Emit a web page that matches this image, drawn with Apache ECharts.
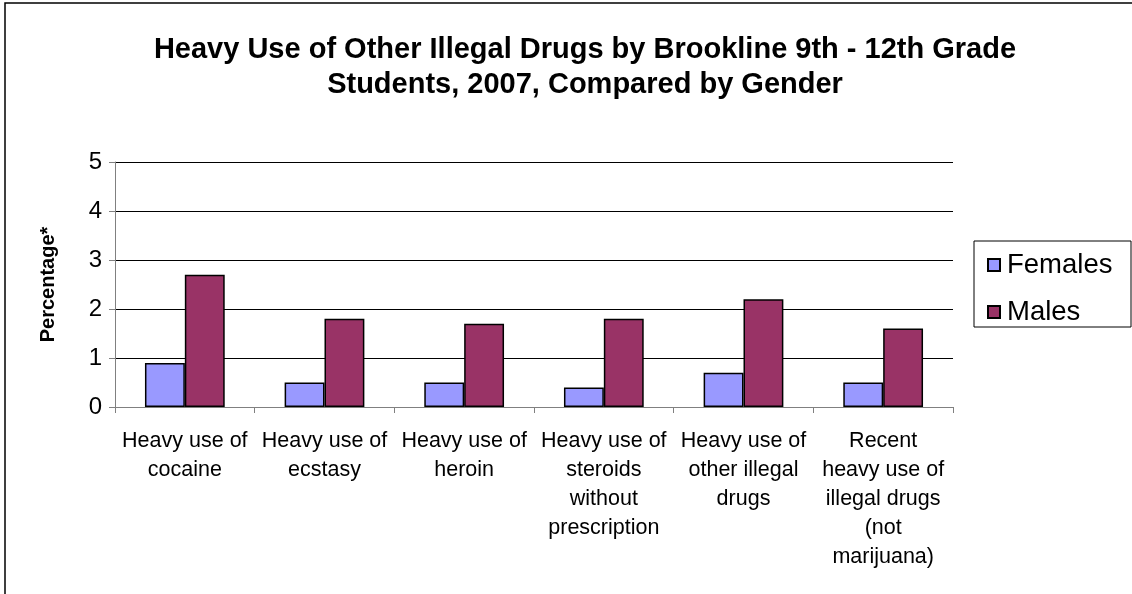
<!DOCTYPE html>
<html>
<head>
<meta charset="utf-8">
<script src="https://cdn.jsdelivr.net/npm/echarts@6/dist/echarts.min.js"></script>
<style>
  html, body { margin: 0; padding: 0; background: #fff; }
  #chart { width: 1132px; height: 594px; }
</style>
</head>
<body>
<div id="chart"></div>
<script>
// Drug use categories (line breaks as shown under the axis)
const categories = [
  'Heavy use of\ncocaine',
  'Heavy use of\necstasy',
  'Heavy use of\nheroin',
  'Heavy use of\nsteroids\nwithout\nprescription',
  'Heavy use of\nother illegal\ndrugs',
  'Recent\nheavy use of\nillegal drugs\n(not\nmarijuana)'
];
const females = [0.9, 0.5, 0.5, 0.4, 0.7, 0.5];
const males = [2.7, 1.8, 1.7, 1.8, 2.2, 1.6];
const yTicks = [0, 1, 2, 3, 4, 5];

const chart = echarts.init(document.getElementById('chart'));
const font = 'Liberation Sans, Arial, sans-serif';

chart.setOption({
  animation: false,
  backgroundColor: '#fff',
  textStyle: { fontFamily: font, color: '#000' },
  title: {
    text: 'Heavy Use of Other Illegal Drugs by Brookline 9th - 12th Grade\nStudents, 2007, Compared by Gender',
    left: 580,
    top: 27,
    textAlign: 'center',
    textStyle: { fontFamily: font, fontSize: 29, fontWeight: 'bold', lineHeight: 35, color: '#000' }
  },
  graphic: [
    { type: 'rect', shape: { x: 5, y: 3, width: 1200, height: 700 },
      style: { fill: 'none', stroke: '#000', lineWidth: 1.5 }, z: 0 },
    { type: 'rect', shape: { x: 974, y: 241, width: 157, height: 86 },
      style: { fill: '#fff', stroke: '#000', lineWidth: 1 }, z: 1 }
  ],
  legend: {
    orient: 'vertical',
    left: 982,
    top: 246,
    itemWidth: 12,
    itemHeight: 12,
    itemGap: 19,
    icon: 'rect',
    textStyle: { fontFamily: font, fontSize: 27.5, color: '#000', padding: [0, 0, 0, 2] },
    z: 5
  },
  grid: { left: 115, right: 179, top: 162, bottom: 187, containLabel: false },
  xAxis: {
    type: 'category',
    data: categories,
    axisLine: { lineStyle: { color: '#808080', width: 1 } },
    axisTick: { show: true, length: 6, lineStyle: { color: '#808080' } },
    axisLabel: { fontFamily: font, fontSize: 21.5, color: '#000', lineHeight: 29, margin: 20, interval: 0 }
  },
  yAxis: {
    type: 'value',
    min: yTicks[0],
    max: yTicks[yTicks.length - 1],
    interval: 1,
    name: 'Percentage*',
    nameLocation: 'middle',
    nameGap: 57,
    nameTextStyle: { fontFamily: font, fontSize: 20, fontWeight: 'bold', color: '#000' },
    axisLine: { show: true, lineStyle: { color: '#808080', width: 1 } },
    axisTick: { show: true, length: 6, lineStyle: { color: '#808080' } },
    axisLabel: { fontFamily: font, fontSize: 24, color: '#000', margin: 13 },
    splitLine: { lineStyle: { color: '#000', width: 1 } }
  },
  series: [
    {
      name: 'Females', type: 'bar', data: females,
      barGap: '0%', barCategoryGap: '42.9%',
      itemStyle: { color: '#9999FF', borderColor: '#000', borderWidth: 1.5 }
    },
    {
      name: 'Males', type: 'bar', data: males,
      itemStyle: { color: '#993366', borderColor: '#000', borderWidth: 1.5 }
    }
  ]
});
</script>
</body>
</html>
